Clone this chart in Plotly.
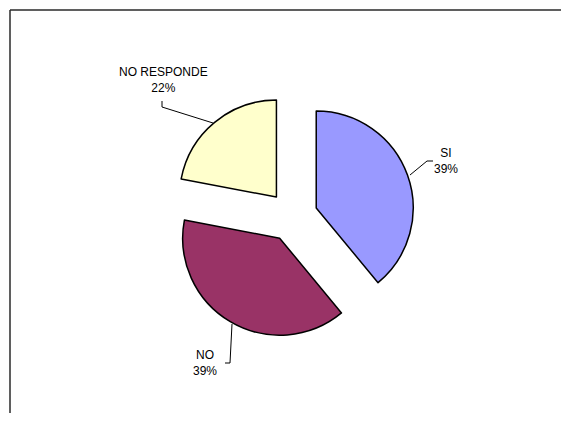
import plotly.graph_objects as go

# ---- data ----
labels = ["SI", "NO", "NO RESPONDE"]
values = [39, 39, 22]
colors = ["#9999FF", "#993366", "#FFFFCC"]

# page body has an 8px margin; figure sized to fit the 569x421 window
OFF = 8
W, H = 569 - 2 * OFF, 421 - 2 * OFF


def px(x):
    return (x - OFF) / W


def py(y):
    return 1 - (y - OFF) / H


total = sum(values)
pct = [round(v / total * 100) for v in values]

fig = go.Figure()
fig.add_trace(go.Pie(
    labels=labels,
    values=values,
    sort=False,
    direction="clockwise",
    rotation=0,
    pull=[0.26, 0.26, 0.26],
    marker=dict(colors=colors, line=dict(color="#000000", width=1.5)),
    textinfo="none",
    hoverinfo="label+percent",
    showlegend=False,
    domain=dict(x=[px(292.5 - 122.2), px(292.5 + 122.2)],
                y=[py(216.5 + 122.2), py(216.5 - 122.2)]),
))

# label positions (window pixel centres) and leader lines
label_pos = {"SI": (446, 161), "NO": (205, 363), "NO RESPONDE": (163, 80)}
leaders = {
    "SI": [(410, 175), (427, 161), (433, 161)],
    "NO": [(232, 324), (230, 363), (225, 363)],
    "NO RESPONDE": [(213, 123), (162, 107), (162, 101)],
}

font = dict(family="Liberation Sans, Arial, sans-serif", size=12, color="#000000")
for lab, p in zip(labels, pct):
    cx, cy = label_pos[lab]
    fig.add_annotation(x=px(cx), y=py(cy), xref="paper", yref="paper",
                       text=f"{lab}<br>{p}%", showarrow=False, font=font,
                       xanchor="center", yanchor="middle", align="center")
    pts = leaders[lab]
    path = "M " + " L ".join(f"{px(x)},{py(y)}" for x, y in pts)
    fig.add_shape(type="path", path=path, xref="paper", yref="paper",
                  line=dict(color="#000000", width=1))

# chart frame: left and top edges (drawn as two separate lines)
fig.add_shape(type="line", xref="paper", yref="paper",
              x0=px(10), x1=px(10), y0=0, y1=py(10),
              line=dict(color="#2a2a2a", width=1.5))
fig.add_shape(type="line", xref="paper", yref="paper",
              x0=px(10), x1=px(561), y0=py(10), y1=py(10),
              line=dict(color="#2a2a2a", width=1.5))

fig.update_layout(width=W, height=H, margin=dict(l=0, r=0, t=0, b=0),
                  paper_bgcolor="#FFFFFF", plot_bgcolor="#FFFFFF")

fig.write_html("out.html")
